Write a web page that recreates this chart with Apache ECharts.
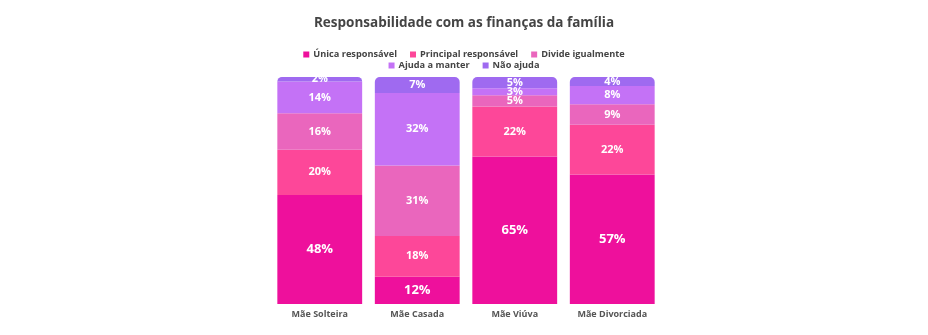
<!DOCTYPE html>
<html><head><meta charset="utf-8">
<script src="https://cdn.jsdelivr.net/npm/echarts@6/dist/echarts.min.js"></script>
<style>html,body{margin:0;padding:0;background:#fff}#c{width:928px;height:335px}</style>
</head><body><div id="c"></div>
<script>
const categories = ['Mãe Solteira', 'Mãe Casada', 'Mãe Viúva', 'Mãe Divorciada'];
const seriesNames = ['Única responsável', 'Principal responsável', 'Divide igualmente', 'Ajuda a manter', 'Não ajuda'];
const unica = [48, 12, 65, 57];
const principal = [20, 18, 22, 22];
const divide = [16, 31, 5, 9];
const ajuda = [14, 32, 3, 8];
const naoAjuda = [2, 7, 5, 4];
const values = [unica, principal, divide, ajuda, naoAjuda];
const colors = ['#ee109c', '#fd4799', '#ea66bd', '#c472f6', '#9f6af0'];
const FONT = '"Open Sans", "Noto Sans", sans-serif';

const legendBase = {
  left: 'center',
  itemWidth: 6, itemHeight: 6, itemGap: 13,
  icon: 'rect',
  itemStyle: {borderWidth: 0},
  textStyle: {fontFamily: FONT, fontSize: 9.2, fontWeight: 'bold', color: '#444', padding: [0, 0, 0, -1]}
};

const chart = echarts.init(document.getElementById('c'));
chart.setOption({
  animation: false,
  title: {
    text: 'Responsabilidade com as finanças da família',
    left: 'center', top: 11,
    textStyle: {fontFamily: FONT, fontSize: 13.5, fontWeight: 'bold', color: '#444'}
  },
  legend: [
    Object.assign({}, legendBase, {top: 45, data: seriesNames.slice(0, 3)}),
    Object.assign({}, legendBase, {top: 56, data: seriesNames.slice(3)})
  ],
  grid: {left: 271, right: 267, top: 77, bottom: 31},
  xAxis: {
    type: 'category', data: categories,
    axisLine: {show: false}, axisTick: {show: false},
    axisLabel: {interval: 0, fontFamily: FONT, fontSize: 9, fontWeight: 'bold', color: '#555', margin: 6}
  },
  yAxis: {type: 'value', min: 0, max: 100, show: false, splitLine: {show: false}},
  series: values.map((v, i) => ({
    name: seriesNames[i],
    type: 'bar', stack: 'total', barWidth: '87%',
    data: v,
    itemStyle: {
      color: colors[i],
      borderRadius: i === 4 ? [5, 5, 0, 0] : 0
    },
    label: {
      show: true, position: 'inside',
      formatter: p => p.value + '%',
      fontFamily: FONT, fontWeight: 'bold',
      fontSize: i === 0 ? 13 : 11,
      color: '#fff'
    }
  }))
});
</script></body></html>
